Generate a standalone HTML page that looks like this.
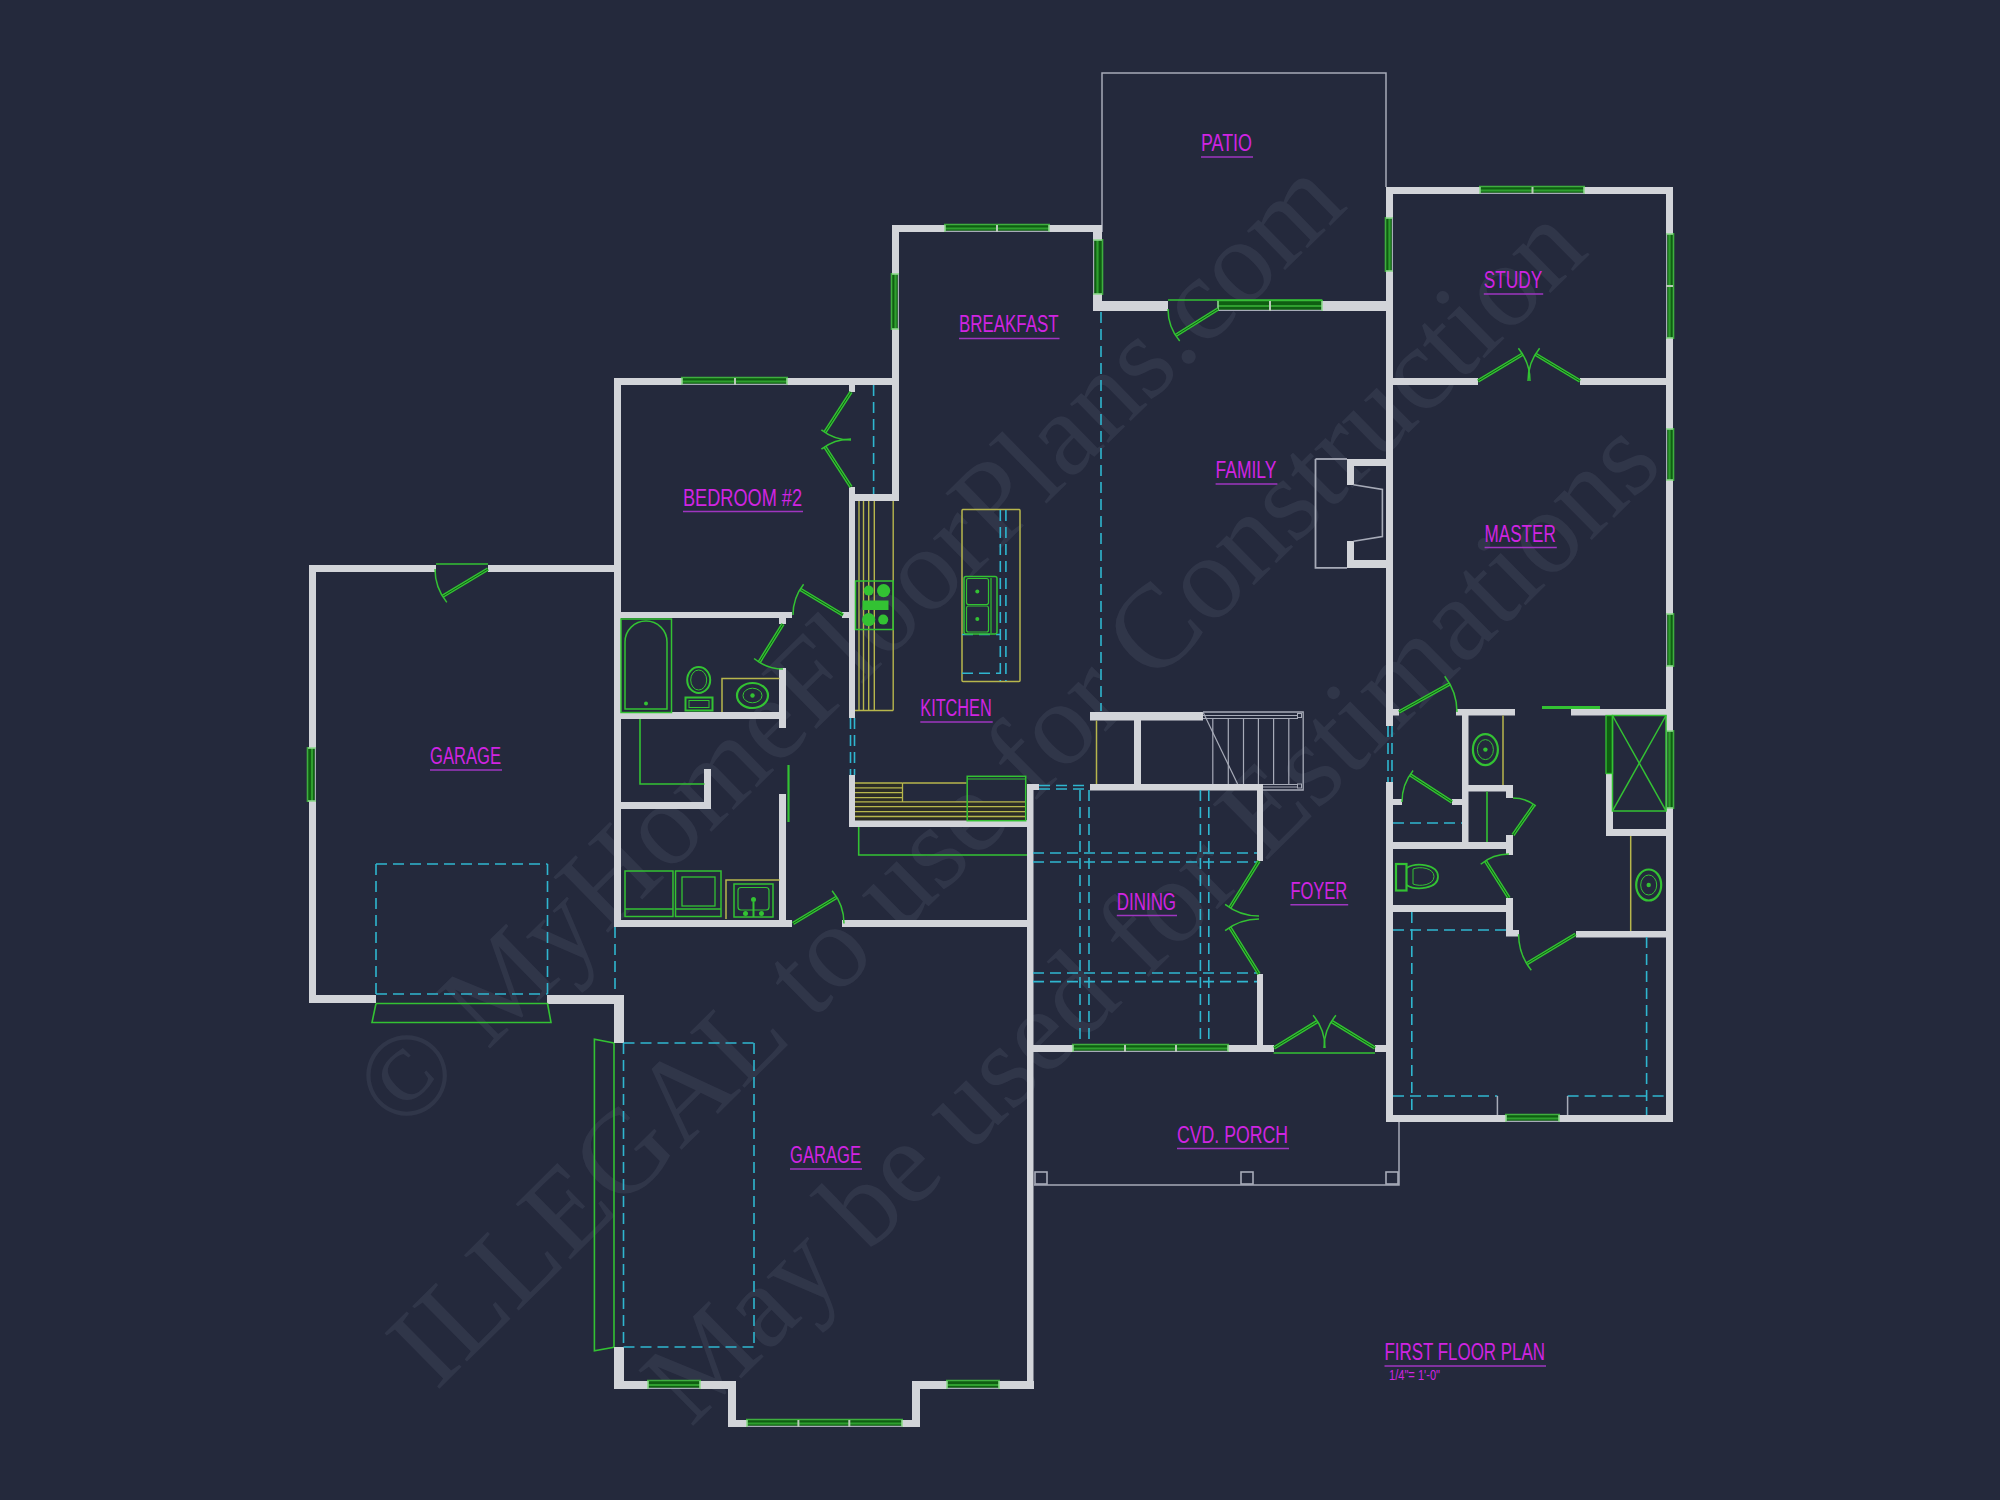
<!DOCTYPE html>
<html><head><meta charset="utf-8"><title>First Floor Plan</title>
<style>html,body{margin:0;padding:0;background:#24293c;}body{width:2000px;height:1500px;overflow:hidden;}svg{display:block;}</style>
</head><body>
<svg width="2000" height="1500" viewBox="0 0 2000 1500">
<rect x="0" y="0" width="2000" height="1500" fill="#24293c"/>
<text x="0" y="0" transform="translate(875.5,671) rotate(-44.4)" text-anchor="middle" font-size="119" fill="rgba(190,195,225,0.085)" font-family="Liberation Serif, serif">© MyHomeFloorPlans.com</text>
<text x="0" y="0" transform="translate(1013.5,822.5) rotate(-44.6)" text-anchor="middle" font-size="119" fill="rgba(190,195,225,0.085)" font-family="Liberation Serif, serif">ILLEGAL to use for Construction</text>
<text x="0" y="0" transform="translate(1178,948) rotate(-44.6)" text-anchor="middle" font-size="119" fill="rgba(190,195,225,0.085)" font-family="Liberation Serif, serif">May be used for Estimations</text>
<polyline points="1102,232 1102,73 1386,73 1386,187" fill="none" stroke="#a7abb8" stroke-width="1.5"/>
<polyline points="1034,1185 1399,1185 1399,1122" fill="none" stroke="#a7abb8" stroke-width="1.5"/>
<rect x="1035" y="1172" width="12" height="12" rx="0" fill="none" stroke="#a7abb8" stroke-width="1.6"/>
<rect x="1241" y="1172" width="12" height="12" rx="0" fill="none" stroke="#a7abb8" stroke-width="1.6"/>
<rect x="1386" y="1172" width="12" height="12" rx="0" fill="none" stroke="#a7abb8" stroke-width="1.6"/>
<rect x="309" y="565" width="127" height="7" fill="#d2d4d9"/>
<rect x="488" y="565" width="126" height="7" fill="#d2d4d9"/>
<rect x="309" y="565" width="7" height="183" fill="#d2d4d9"/>
<rect x="309" y="801" width="7" height="202" fill="#d2d4d9"/>
<rect x="308" y="748" width="8" height="53" fill="#0f5e12"/>
<line x1="312.0" y1="748" x2="312.0" y2="801" stroke="#2f9f2f" stroke-width="2.2" stroke-linecap="butt"/>
<line x1="307.5" y1="747" x2="307.5" y2="802" stroke="#3fae3f" stroke-width="1.6" stroke-linecap="butt"/>
<line x1="315.4" y1="748" x2="315.4" y2="801" stroke="#a7abb8" stroke-width="1.2" stroke-linecap="butt"/>
<line x1="308" y1="748" x2="316" y2="748" stroke="#8fd88f" stroke-width="1.6" stroke-linecap="butt"/>
<line x1="308" y1="801" x2="316" y2="801" stroke="#8fd88f" stroke-width="1.6" stroke-linecap="butt"/>
<rect x="309" y="995" width="67" height="8" fill="#d2d4d9"/>
<rect x="547" y="995" width="77" height="9" fill="#d2d4d9"/>
<line x1="488.0" y1="569.0" x2="442.6" y2="596.3" stroke="#33c233" stroke-width="3.6"/>
<line x1="488.0" y1="569.0" x2="442.6" y2="596.3" stroke="#0f5e12" stroke-width="1"/>
<path d="M435.0,569.0 A53,53 0 0 0 446.8,602.4" fill="none" stroke="#33c233" stroke-width="1.5"/>
<line x1="436" y1="564" x2="488" y2="564" stroke="#33c233" stroke-width="1.4" stroke-linecap="butt"/>
<line x1="376" y1="864" x2="547.5" y2="864" stroke="#2fb6cf" stroke-width="1.6" stroke-dasharray="11 6" stroke-linecap="butt"/>
<line x1="376" y1="864" x2="376" y2="995" stroke="#2fb6cf" stroke-width="1.6" stroke-dasharray="11 6" stroke-linecap="butt"/>
<line x1="547.5" y1="864" x2="547.5" y2="995" stroke="#2fb6cf" stroke-width="1.6" stroke-dasharray="11 6" stroke-linecap="butt"/>
<line x1="376" y1="994" x2="547.5" y2="994" stroke="#2fb6cf" stroke-width="1.6" stroke-dasharray="11 6" stroke-linecap="butt"/>
<polyline points="376,1003.5 372,1022.5 551,1022.5 547.5,1003.5" fill="none" stroke="#33c233" stroke-width="1.6"/>
<line x1="376" y1="1003.5" x2="547.5" y2="1003.5" stroke="#33c233" stroke-width="1.6" stroke-linecap="butt"/>
<rect x="614" y="378" width="7" height="549" fill="#d2d4d9"/>
<rect x="614" y="378" width="68" height="7" fill="#d2d4d9"/>
<rect x="787" y="378" width="112" height="7" fill="#d2d4d9"/>
<rect x="682" y="378" width="105" height="7" fill="#0f5e12"/>
<line x1="682" y1="381.5" x2="787" y2="381.5" stroke="#2f9f2f" stroke-width="2.2" stroke-linecap="butt"/>
<line x1="681" y1="377.5" x2="788" y2="377.5" stroke="#3fae3f" stroke-width="1.6" stroke-linecap="butt"/>
<line x1="682" y1="384.4" x2="787" y2="384.4" stroke="#a7abb8" stroke-width="1.2" stroke-linecap="butt"/>
<line x1="682" y1="378" x2="682" y2="385" stroke="#8fd88f" stroke-width="1.6" stroke-linecap="butt"/>
<line x1="787" y1="378" x2="787" y2="385" stroke="#8fd88f" stroke-width="1.6" stroke-linecap="butt"/>
<line x1="735" y1="378" x2="735" y2="385" stroke="#b9c9b9" stroke-width="2" stroke-linecap="butt"/>
<rect x="849" y="378" width="6" height="14" fill="#d2d4d9"/>
<rect x="849" y="487" width="6" height="231" fill="#d2d4d9"/>
<rect x="849" y="775" width="6" height="52" fill="#d2d4d9"/>
<rect x="892" y="225" width="7" height="49" fill="#d2d4d9"/>
<rect x="892" y="329" width="7" height="172" fill="#d2d4d9"/>
<rect x="892" y="274" width="7" height="55" fill="#0f5e12"/>
<line x1="895.5" y1="274" x2="895.5" y2="329" stroke="#2f9f2f" stroke-width="2.2" stroke-linecap="butt"/>
<line x1="891.5" y1="273" x2="891.5" y2="330" stroke="#3fae3f" stroke-width="1.6" stroke-linecap="butt"/>
<line x1="898.4" y1="274" x2="898.4" y2="329" stroke="#a7abb8" stroke-width="1.2" stroke-linecap="butt"/>
<line x1="892" y1="274" x2="899" y2="274" stroke="#8fd88f" stroke-width="1.6" stroke-linecap="butt"/>
<line x1="892" y1="329" x2="899" y2="329" stroke="#8fd88f" stroke-width="1.6" stroke-linecap="butt"/>
<rect x="849" y="494" width="50" height="7" fill="#d2d4d9"/>
<line x1="873.6" y1="385" x2="873.6" y2="494" stroke="#2fb6cf" stroke-width="1.6" stroke-dasharray="11 6" stroke-linecap="butt"/>
<line x1="851.0" y1="392.0" x2="824.9" y2="432.3" stroke="#33c233" stroke-width="3.6"/>
<line x1="851.0" y1="392.0" x2="824.9" y2="432.3" stroke="#0f5e12" stroke-width="1"/>
<path d="M851.0,440.0 A48,48 0 0 1 821.4,429.8" fill="none" stroke="#33c233" stroke-width="1.5"/>
<line x1="851.0" y1="487.0" x2="824.9" y2="446.7" stroke="#33c233" stroke-width="3.6"/>
<line x1="851.0" y1="487.0" x2="824.9" y2="446.7" stroke="#0f5e12" stroke-width="1"/>
<path d="M851.0,439.0 A48,48 0 0 0 821.4,449.2" fill="none" stroke="#33c233" stroke-width="1.5"/>
<rect x="614" y="612" width="178" height="6" fill="#d2d4d9"/>
<rect x="842" y="612" width="8" height="6" fill="#d2d4d9"/>
<rect x="779" y="612" width="7" height="12" fill="#d2d4d9"/>
<line x1="843.0" y1="615.0" x2="800.1" y2="589.2" stroke="#33c233" stroke-width="3.6"/>
<line x1="843.0" y1="615.0" x2="800.1" y2="589.2" stroke="#0f5e12" stroke-width="1"/>
<path d="M793.0,615.0 A50,50 0 0 1 803.6,584.2" fill="none" stroke="#33c233" stroke-width="1.5"/>
<rect x="614" y="712" width="172" height="7" fill="#d2d4d9"/>
<rect x="779" y="668" width="7" height="60" fill="#d2d4d9"/>
<line x1="783.0" y1="624.0" x2="759.2" y2="662.2" stroke="#33c233" stroke-width="3.6"/>
<line x1="783.0" y1="624.0" x2="759.2" y2="662.2" stroke="#0f5e12" stroke-width="1"/>
<path d="M783.0,669.0 A45,45 0 0 1 754.1,658.5" fill="none" stroke="#33c233" stroke-width="1.5"/>
<rect x="621" y="619" width="50.5" height="93.5" rx="0" fill="none" stroke="#33c233" stroke-width="1.5"/>
<path d="M625,709 L625,642 A21,21 0 0 1 667,642 L667,709 Z" fill="none" stroke="#33c233" stroke-width="1.5"/>
<circle cx="646" cy="703.5" r="2" fill="#33c233"/>
<ellipse cx="698.7" cy="680" rx="11.5" ry="13" fill="none" stroke="#33c233" stroke-width="2"/>
<ellipse cx="698.7" cy="680" rx="8" ry="10" fill="none" stroke="#33c233" stroke-width="1"/>
<rect x="685.5" y="697.5" width="27" height="13" rx="0" fill="none" stroke="#33c233" stroke-width="2"/>
<rect x="689" y="700.5" width="20" height="7" rx="0" fill="none" stroke="#33c233" stroke-width="1"/>
<polyline points="779.5,678.5 722,678.5 722,712" fill="none" stroke="#b7b64c" stroke-width="1.5"/>
<ellipse cx="752.5" cy="695.5" rx="15.5" ry="12.5" fill="none" stroke="#33c233" stroke-width="2.2"/>
<ellipse cx="752.5" cy="695.5" rx="9.5" ry="7.3" fill="none" stroke="#33c233" stroke-width="1"/>
<circle cx="752.5" cy="695.5" r="2.2" fill="#33c233"/>
<rect x="614" y="802" width="97" height="7" fill="#d2d4d9"/>
<rect x="704" y="769" width="7" height="40" fill="#d2d4d9"/>
<polyline points="640,719 640,784 704.5,784" fill="none" stroke="#33c233" stroke-width="1.6"/>
<rect x="779" y="794" width="7" height="133" fill="#d2d4d9"/>
<line x1="788.5" y1="765" x2="788.5" y2="822" stroke="#33c233" stroke-width="2.2" stroke-linecap="butt"/>
<rect x="614" y="920" width="178" height="7" fill="#d2d4d9"/>
<rect x="842" y="920" width="191" height="7" fill="#d2d4d9"/>
<line x1="793.0" y1="923.5" x2="836.7" y2="897.2" stroke="#33c233" stroke-width="3.6"/>
<line x1="793.0" y1="923.5" x2="836.7" y2="897.2" stroke="#0f5e12" stroke-width="1"/>
<path d="M832.1,890.7 A51,51 0 0 1 844.0,923.5" fill="none" stroke="#33c233" stroke-width="1.5"/>
<rect x="625" y="871" width="48" height="45.5" rx="0" fill="none" stroke="#33c233" stroke-width="1.5"/>
<line x1="625" y1="909" x2="673" y2="909" stroke="#33c233" stroke-width="1.3" stroke-linecap="butt"/>
<rect x="675.5" y="871" width="45.5" height="45.5" rx="0" fill="none" stroke="#33c233" stroke-width="1.5"/>
<line x1="675.5" y1="909" x2="721" y2="909" stroke="#33c233" stroke-width="1.3" stroke-linecap="butt"/>
<rect x="682" y="877" width="33" height="29" rx="0" fill="none" stroke="#33c233" stroke-width="1.3"/>
<polyline points="779.5,880 726,880 726,919" fill="none" stroke="#b7b64c" stroke-width="1.5"/>
<rect x="734" y="884" width="39" height="33" rx="0" fill="none" stroke="#33c233" stroke-width="1.5"/>
<rect x="738" y="887.5" width="31" height="22.5" rx="3" fill="none" stroke="#33c233" stroke-width="1.2"/>
<circle cx="753.5" cy="899.5" r="2.5" fill="#33c233"/><circle cx="745.5" cy="913.5" r="2.5" fill="#33c233"/><circle cx="761.5" cy="913.5" r="2.5" fill="#33c233"/>
<line x1="753.5" y1="902" x2="753.5" y2="917" stroke="#33c233" stroke-width="2" stroke-linecap="butt"/>
<rect x="849" y="820" width="184" height="7" fill="#d2d4d9"/>
<line x1="850.5" y1="718" x2="850.5" y2="775" stroke="#2fb6cf" stroke-width="1.6" stroke-dasharray="11 6" stroke-linecap="butt"/>
<line x1="854.5" y1="718" x2="854.5" y2="775" stroke="#2fb6cf" stroke-width="1.6" stroke-dasharray="11 6" stroke-linecap="butt"/>
<line x1="859" y1="501" x2="859" y2="710.5" stroke="#b7b64c" stroke-width="1.4" stroke-linecap="butt"/>
<line x1="863.5" y1="501" x2="863.5" y2="710.5" stroke="#b7b64c" stroke-width="1.4" stroke-linecap="butt"/>
<line x1="868.7" y1="501" x2="868.7" y2="710.5" stroke="#b7b64c" stroke-width="1.4" stroke-linecap="butt"/>
<line x1="874.3" y1="501" x2="874.3" y2="710.5" stroke="#b7b64c" stroke-width="1.4" stroke-linecap="butt"/>
<line x1="893.2" y1="501" x2="893.2" y2="710.5" stroke="#b7b64c" stroke-width="1.4" stroke-linecap="butt"/>
<line x1="855" y1="710.5" x2="893.2" y2="710.5" stroke="#b7b64c" stroke-width="1.4" stroke-linecap="butt"/>
<rect x="855.5" y="581" width="37.7" height="48.5" rx="0" fill="none" stroke="#33c233" stroke-width="1.5"/>
<circle cx="868.7" cy="590.6" r="5" fill="#33c233"/>
<circle cx="883.6" cy="590.6" r="6.6" fill="#33c233"/>
<circle cx="868.7" cy="619.6" r="6.6" fill="#33c233"/>
<circle cx="883.2" cy="619.6" r="5" fill="#33c233"/>
<rect x="862.5" y="600.5" width="26" height="9.5" fill="#33c233"/>
<rect x="962" y="509.5" width="58" height="172" rx="1" fill="none" stroke="#b7b64c" stroke-width="1.5"/>
<line x1="1000.3" y1="510" x2="1000.3" y2="681" stroke="#2fb6cf" stroke-width="1.6" stroke-dasharray="11 6" stroke-linecap="butt"/>
<line x1="1005.9" y1="510" x2="1005.9" y2="681" stroke="#2fb6cf" stroke-width="1.6" stroke-dasharray="11 6" stroke-linecap="butt"/>
<line x1="962" y1="673.2" x2="1000" y2="673.2" stroke="#2fb6cf" stroke-width="1.6" stroke-dasharray="11 6" stroke-linecap="butt"/>
<line x1="962" y1="634.5" x2="1000" y2="634.5" stroke="#2fb6cf" stroke-width="1.6" stroke-dasharray="11 6" stroke-linecap="butt"/>
<rect x="964" y="576.5" width="33" height="57.5" rx="2" fill="none" stroke="#33c233" stroke-width="1.5"/>
<rect x="966.5" y="578.5" width="22" height="26" rx="2" fill="none" stroke="#33c233" stroke-width="1.2"/>
<rect x="966.5" y="606" width="22" height="26" rx="2" fill="none" stroke="#33c233" stroke-width="1.2"/>
<line x1="991" y1="578" x2="991" y2="633" stroke="#33c233" stroke-width="1.2" stroke-linecap="butt"/>
<circle cx="977.3" cy="591.6" r="2" fill="#33c233"/><circle cx="977.3" cy="619" r="2" fill="#33c233"/>
<rect x="855" y="783" width="47.5" height="19" fill="#2b2c26"/>
<rect x="855" y="802" width="171" height="18.5" fill="#2b2c26"/>
<line x1="855" y1="783" x2="902.5" y2="783" stroke="#b7b64c" stroke-width="1.3" stroke-linecap="butt"/>
<line x1="855" y1="787.8" x2="902.5" y2="787.8" stroke="#b7b64c" stroke-width="1.3" stroke-linecap="butt"/>
<line x1="855" y1="792.7" x2="902.5" y2="792.7" stroke="#b7b64c" stroke-width="1.3" stroke-linecap="butt"/>
<line x1="855" y1="797.6" x2="902.5" y2="797.6" stroke="#b7b64c" stroke-width="1.3" stroke-linecap="butt"/>
<line x1="902.5" y1="783" x2="966.5" y2="783" stroke="#b7b64c" stroke-width="1.3" stroke-linecap="butt"/>
<line x1="902.5" y1="783" x2="902.5" y2="802" stroke="#b7b64c" stroke-width="1.3" stroke-linecap="butt"/>
<line x1="855" y1="801.8" x2="1026" y2="801.8" stroke="#b7b64c" stroke-width="1.3" stroke-linecap="butt"/>
<line x1="855" y1="806.7" x2="1026" y2="806.7" stroke="#b7b64c" stroke-width="1.3" stroke-linecap="butt"/>
<line x1="855" y1="811.6" x2="1026" y2="811.6" stroke="#b7b64c" stroke-width="1.3" stroke-linecap="butt"/>
<line x1="855" y1="816.5" x2="1026" y2="816.5" stroke="#b7b64c" stroke-width="1.3" stroke-linecap="butt"/>
<rect x="967.2" y="776.3" width="58.5" height="44.4" rx="0" fill="none" stroke="#33c233" stroke-width="1.5"/>
<line x1="967.2" y1="779" x2="1025.7" y2="779" stroke="#33c233" stroke-width="1.2" stroke-linecap="butt"/>
<polyline points="858.7,827 858.7,855 1027,855" fill="none" stroke="#33c233" stroke-width="1.6"/>
<rect x="892" y="225" width="53" height="7" fill="#d2d4d9"/>
<rect x="1049" y="225" width="53" height="7" fill="#d2d4d9"/>
<rect x="945" y="225" width="104" height="7" fill="#0f5e12"/>
<line x1="945" y1="228.5" x2="1049" y2="228.5" stroke="#2f9f2f" stroke-width="2.2" stroke-linecap="butt"/>
<line x1="944" y1="224.5" x2="1050" y2="224.5" stroke="#3fae3f" stroke-width="1.6" stroke-linecap="butt"/>
<line x1="945" y1="231.4" x2="1049" y2="231.4" stroke="#a7abb8" stroke-width="1.2" stroke-linecap="butt"/>
<line x1="945" y1="225" x2="945" y2="232" stroke="#8fd88f" stroke-width="1.6" stroke-linecap="butt"/>
<line x1="1049" y1="225" x2="1049" y2="232" stroke="#8fd88f" stroke-width="1.6" stroke-linecap="butt"/>
<line x1="997" y1="225" x2="997" y2="232" stroke="#b9c9b9" stroke-width="2" stroke-linecap="butt"/>
<rect x="1093" y="225" width="9" height="15" fill="#d2d4d9"/>
<rect x="1093" y="294" width="9" height="17" fill="#d2d4d9"/>
<rect x="1093" y="240" width="9" height="54" fill="#0f5e12"/>
<line x1="1097.5" y1="240" x2="1097.5" y2="294" stroke="#2f9f2f" stroke-width="2.2" stroke-linecap="butt"/>
<line x1="1102.5" y1="239" x2="1102.5" y2="295" stroke="#3fae3f" stroke-width="1.6" stroke-linecap="butt"/>
<line x1="1093.6" y1="240" x2="1093.6" y2="294" stroke="#a7abb8" stroke-width="1.2" stroke-linecap="butt"/>
<line x1="1093" y1="240" x2="1102" y2="240" stroke="#8fd88f" stroke-width="1.6" stroke-linecap="butt"/>
<line x1="1093" y1="294" x2="1102" y2="294" stroke="#8fd88f" stroke-width="1.6" stroke-linecap="butt"/>
<line x1="1101" y1="312" x2="1101" y2="711" stroke="#2fb6cf" stroke-width="1.6" stroke-dasharray="11 6" stroke-linecap="butt"/>
<rect x="1093" y="301" width="75" height="10" fill="#d2d4d9"/>
<rect x="1322" y="301" width="71" height="10" fill="#d2d4d9"/>
<rect x="1218" y="301" width="104" height="10" fill="#0f5e12"/>
<line x1="1218" y1="306.0" x2="1322" y2="306.0" stroke="#2f9f2f" stroke-width="2.2" stroke-linecap="butt"/>
<line x1="1217" y1="300.5" x2="1323" y2="300.5" stroke="#3fae3f" stroke-width="1.6" stroke-linecap="butt"/>
<line x1="1218" y1="310.4" x2="1322" y2="310.4" stroke="#a7abb8" stroke-width="1.2" stroke-linecap="butt"/>
<line x1="1218" y1="301" x2="1218" y2="311" stroke="#8fd88f" stroke-width="1.6" stroke-linecap="butt"/>
<line x1="1322" y1="301" x2="1322" y2="311" stroke="#8fd88f" stroke-width="1.6" stroke-linecap="butt"/>
<line x1="1270" y1="301" x2="1270" y2="311" stroke="#b9c9b9" stroke-width="2" stroke-linecap="butt"/>
<line x1="1168" y1="300" x2="1322" y2="300" stroke="#33c233" stroke-width="1.5" stroke-linecap="butt"/>
<line x1="1218.0" y1="309.0" x2="1175.6" y2="335.5" stroke="#33c233" stroke-width="3.6"/>
<line x1="1218.0" y1="309.0" x2="1175.6" y2="335.5" stroke="#0f5e12" stroke-width="1"/>
<path d="M1168.0,309.0 A50,50 0 0 0 1179.7,341.1" fill="none" stroke="#33c233" stroke-width="1.5"/>
<rect x="1347" y="459" width="46" height="7" fill="#d2d4d9"/>
<rect x="1347" y="459" width="7" height="26" fill="#d2d4d9"/>
<rect x="1347" y="541" width="7" height="27" fill="#d2d4d9"/>
<rect x="1347" y="560" width="46" height="8" fill="#d2d4d9"/>
<polyline points="1315.5,459 1315.5,567.8 1347,567.8" fill="none" stroke="#a7abb8" stroke-width="1.8"/>
<line x1="1315.5" y1="459" x2="1347" y2="459" stroke="#a7abb8" stroke-width="1.8" stroke-linecap="butt"/>
<polyline points="1353.5,484.8 1382.4,489.5 1382.4,536.6 1353.5,541.2" fill="none" stroke="#a7abb8" stroke-width="1.6"/>
<rect x="1386" y="187" width="7" height="31" fill="#d2d4d9"/>
<rect x="1386" y="271" width="7" height="455" fill="#d2d4d9"/>
<rect x="1386" y="782" width="7" height="340" fill="#d2d4d9"/>
<rect x="1386" y="218" width="7" height="53" fill="#0f5e12"/>
<line x1="1389.5" y1="218" x2="1389.5" y2="271" stroke="#2f9f2f" stroke-width="2.2" stroke-linecap="butt"/>
<line x1="1385.5" y1="217" x2="1385.5" y2="272" stroke="#3fae3f" stroke-width="1.6" stroke-linecap="butt"/>
<line x1="1392.4" y1="218" x2="1392.4" y2="271" stroke="#a7abb8" stroke-width="1.2" stroke-linecap="butt"/>
<line x1="1386" y1="218" x2="1393" y2="218" stroke="#8fd88f" stroke-width="1.6" stroke-linecap="butt"/>
<line x1="1386" y1="271" x2="1393" y2="271" stroke="#8fd88f" stroke-width="1.6" stroke-linecap="butt"/>
<line x1="1388" y1="726" x2="1388" y2="782" stroke="#2fb6cf" stroke-width="1.6" stroke-dasharray="11 6" stroke-linecap="butt"/>
<line x1="1392" y1="726" x2="1392" y2="782" stroke="#2fb6cf" stroke-width="1.6" stroke-dasharray="11 6" stroke-linecap="butt"/>
<rect x="1386" y="187" width="94" height="7" fill="#d2d4d9"/>
<rect x="1584" y="187" width="89" height="7" fill="#d2d4d9"/>
<rect x="1480" y="187" width="104" height="7" fill="#0f5e12"/>
<line x1="1480" y1="190.5" x2="1584" y2="190.5" stroke="#2f9f2f" stroke-width="2.2" stroke-linecap="butt"/>
<line x1="1479" y1="186.5" x2="1585" y2="186.5" stroke="#3fae3f" stroke-width="1.6" stroke-linecap="butt"/>
<line x1="1480" y1="193.4" x2="1584" y2="193.4" stroke="#a7abb8" stroke-width="1.2" stroke-linecap="butt"/>
<line x1="1480" y1="187" x2="1480" y2="194" stroke="#8fd88f" stroke-width="1.6" stroke-linecap="butt"/>
<line x1="1584" y1="187" x2="1584" y2="194" stroke="#8fd88f" stroke-width="1.6" stroke-linecap="butt"/>
<line x1="1532.5" y1="187" x2="1532.5" y2="194" stroke="#b9c9b9" stroke-width="2" stroke-linecap="butt"/>
<rect x="1666" y="187" width="7" height="47" fill="#d2d4d9"/>
<rect x="1666" y="338" width="7" height="91" fill="#d2d4d9"/>
<rect x="1666" y="480" width="7" height="134" fill="#d2d4d9"/>
<rect x="1666" y="666" width="7" height="65" fill="#d2d4d9"/>
<rect x="1666" y="808" width="7" height="314" fill="#d2d4d9"/>
<rect x="1666" y="234" width="7" height="104" fill="#0f5e12"/>
<line x1="1669.5" y1="234" x2="1669.5" y2="338" stroke="#2f9f2f" stroke-width="2.2" stroke-linecap="butt"/>
<line x1="1673.5" y1="233" x2="1673.5" y2="339" stroke="#3fae3f" stroke-width="1.6" stroke-linecap="butt"/>
<line x1="1666.6" y1="234" x2="1666.6" y2="338" stroke="#a7abb8" stroke-width="1.2" stroke-linecap="butt"/>
<line x1="1666" y1="234" x2="1673" y2="234" stroke="#8fd88f" stroke-width="1.6" stroke-linecap="butt"/>
<line x1="1666" y1="338" x2="1673" y2="338" stroke="#8fd88f" stroke-width="1.6" stroke-linecap="butt"/>
<line x1="1666" y1="286" x2="1673" y2="286" stroke="#b9c9b9" stroke-width="2" stroke-linecap="butt"/>
<rect x="1666" y="429" width="7" height="51" fill="#0f5e12"/>
<line x1="1669.5" y1="429" x2="1669.5" y2="480" stroke="#2f9f2f" stroke-width="2.2" stroke-linecap="butt"/>
<line x1="1673.5" y1="428" x2="1673.5" y2="481" stroke="#3fae3f" stroke-width="1.6" stroke-linecap="butt"/>
<line x1="1666.6" y1="429" x2="1666.6" y2="480" stroke="#a7abb8" stroke-width="1.2" stroke-linecap="butt"/>
<line x1="1666" y1="429" x2="1673" y2="429" stroke="#8fd88f" stroke-width="1.6" stroke-linecap="butt"/>
<line x1="1666" y1="480" x2="1673" y2="480" stroke="#8fd88f" stroke-width="1.6" stroke-linecap="butt"/>
<rect x="1666" y="614" width="7" height="52" fill="#0f5e12"/>
<line x1="1669.5" y1="614" x2="1669.5" y2="666" stroke="#2f9f2f" stroke-width="2.2" stroke-linecap="butt"/>
<line x1="1673.5" y1="613" x2="1673.5" y2="667" stroke="#3fae3f" stroke-width="1.6" stroke-linecap="butt"/>
<line x1="1666.6" y1="614" x2="1666.6" y2="666" stroke="#a7abb8" stroke-width="1.2" stroke-linecap="butt"/>
<line x1="1666" y1="614" x2="1673" y2="614" stroke="#8fd88f" stroke-width="1.6" stroke-linecap="butt"/>
<line x1="1666" y1="666" x2="1673" y2="666" stroke="#8fd88f" stroke-width="1.6" stroke-linecap="butt"/>
<rect x="1666" y="731" width="7" height="77" fill="#0f5e12"/>
<line x1="1669.5" y1="731" x2="1669.5" y2="808" stroke="#2f9f2f" stroke-width="2.2" stroke-linecap="butt"/>
<line x1="1673.5" y1="730" x2="1673.5" y2="809" stroke="#3fae3f" stroke-width="1.6" stroke-linecap="butt"/>
<line x1="1666.6" y1="731" x2="1666.6" y2="808" stroke="#a7abb8" stroke-width="1.2" stroke-linecap="butt"/>
<line x1="1666" y1="731" x2="1673" y2="731" stroke="#8fd88f" stroke-width="1.6" stroke-linecap="butt"/>
<line x1="1666" y1="808" x2="1673" y2="808" stroke="#8fd88f" stroke-width="1.6" stroke-linecap="butt"/>
<rect x="1393" y="378" width="85" height="7" fill="#d2d4d9"/>
<rect x="1580" y="378" width="86" height="7" fill="#d2d4d9"/>
<line x1="1478.0" y1="381.0" x2="1522.6" y2="354.2" stroke="#33c233" stroke-width="3.6"/>
<line x1="1478.0" y1="381.0" x2="1522.6" y2="354.2" stroke="#0f5e12" stroke-width="1"/>
<path d="M1518.4,348.3 A52,52 0 0 1 1530.0,381.0" fill="none" stroke="#33c233" stroke-width="1.5"/>
<line x1="1580.0" y1="381.0" x2="1535.4" y2="354.2" stroke="#33c233" stroke-width="3.6"/>
<line x1="1580.0" y1="381.0" x2="1535.4" y2="354.2" stroke="#0f5e12" stroke-width="1"/>
<path d="M1528.0,381.0 A52,52 0 0 1 1539.6,348.3" fill="none" stroke="#33c233" stroke-width="1.5"/>
<rect x="1393" y="709" width="6" height="6.5" fill="#d2d4d9"/>
<rect x="1456" y="709" width="59" height="6.5" fill="#d2d4d9"/>
<rect x="1571" y="709" width="102" height="6.5" fill="#d2d4d9"/>
<line x1="1399.0" y1="712.0" x2="1449.7" y2="683.9" stroke="#33c233" stroke-width="3.6"/>
<line x1="1399.0" y1="712.0" x2="1449.7" y2="683.9" stroke="#0f5e12" stroke-width="1"/>
<path d="M1444.7,676.3 A58,58 0 0 1 1457.0,712.0" fill="none" stroke="#33c233" stroke-width="1.5"/>
<line x1="1542" y1="707.5" x2="1600" y2="707.5" stroke="#33c233" stroke-width="3.2" stroke-linecap="butt"/>
<rect x="1462" y="709" width="6.5" height="139" fill="#d2d4d9"/>
<rect x="1468" y="785" width="45" height="6.5" fill="#d2d4d9"/>
<rect x="1506" y="785" width="7" height="13" fill="#d2d4d9"/>
<line x1="1503" y1="715.5" x2="1503" y2="785" stroke="#b7b64c" stroke-width="1.5" stroke-linecap="butt"/>
<ellipse cx="1485.4" cy="749.6" rx="12.5" ry="15.5" fill="none" stroke="#33c233" stroke-width="2.2"/>
<ellipse cx="1485.4" cy="749.6" rx="8" ry="10" fill="none" stroke="#33c233" stroke-width="1"/>
<circle cx="1485.4" cy="749.6" r="2.2" fill="#33c233"/>
<line x1="1487" y1="791.4" x2="1487" y2="842" stroke="#33c233" stroke-width="1.6" stroke-linecap="butt"/>
<line x1="1513.0" y1="835.0" x2="1534.2" y2="804.7" stroke="#33c233" stroke-width="3.6"/>
<line x1="1513.0" y1="835.0" x2="1534.2" y2="804.7" stroke="#0f5e12" stroke-width="1"/>
<path d="M1513.0,798.0 A37,37 0 0 1 1535.8,805.8" fill="none" stroke="#33c233" stroke-width="1.5"/>
<rect x="1393" y="799" width="9" height="6" fill="#d2d4d9"/>
<rect x="1452" y="799" width="10" height="6" fill="#d2d4d9"/>
<line x1="1452.0" y1="802.0" x2="1410.1" y2="774.8" stroke="#33c233" stroke-width="3.6"/>
<line x1="1452.0" y1="802.0" x2="1410.1" y2="774.8" stroke="#0f5e12" stroke-width="1"/>
<path d="M1402.0,802.0 A50,50 0 0 1 1413.1,770.5" fill="none" stroke="#33c233" stroke-width="1.5"/>
<line x1="1393" y1="823" x2="1462" y2="823" stroke="#2fb6cf" stroke-width="1.6" stroke-dasharray="11 6" stroke-linecap="butt"/>
<rect x="1393" y="842" width="120" height="7" fill="#d2d4d9"/>
<rect x="1506" y="835" width="7" height="20" fill="#d2d4d9"/>
<rect x="1396" y="864" width="10.5" height="26.5" rx="0" fill="none" stroke="#33c233" stroke-width="2.2"/>
<path d="M1406.5,868 C1416,862 1438,864 1438,876.5 C1438,889 1416,891 1406.5,885" fill="none" stroke="#33c233" stroke-width="1.8"/>
<path d="M1413,869 C1420,866 1434,868 1434,876.5 C1434,885 1420,887 1413,884 Z" fill="none" stroke="#33c233" stroke-width="1"/>
<line x1="1509.0" y1="898.0" x2="1485.4" y2="860.9" stroke="#33c233" stroke-width="3.6"/>
<line x1="1509.0" y1="898.0" x2="1485.4" y2="860.9" stroke="#0f5e12" stroke-width="1"/>
<path d="M1480.7,864.3 A44,44 0 0 1 1509.0,854.0" fill="none" stroke="#33c233" stroke-width="1.5"/>
<rect x="1393" y="905" width="120" height="7" fill="#d2d4d9"/>
<rect x="1506" y="898" width="7" height="38" fill="#d2d4d9"/>
<rect x="1506" y="930" width="13" height="6.5" fill="#d2d4d9"/>
<rect x="1576" y="931" width="90" height="6.5" fill="#d2d4d9"/>
<line x1="1575.6" y1="934.3" x2="1526.7" y2="963.7" stroke="#33c233" stroke-width="3.6"/>
<line x1="1575.6" y1="934.3" x2="1526.7" y2="963.7" stroke="#0f5e12" stroke-width="1"/>
<path d="M1518.6,934.3 A57,57 0 0 0 1531.3,970.2" fill="none" stroke="#33c233" stroke-width="1.5"/>
<rect x="1606" y="774" width="7" height="62" fill="#d2d4d9"/>
<rect x="1606" y="829" width="60" height="7" fill="#d2d4d9"/>
<rect x="1606" y="715.5" width="6.5" height="58" fill="#0f5e12" stroke="#33c233" stroke-width="1.3"/>
<rect x="1612.5" y="715.5" width="53.5" height="95.5" rx="0" fill="none" stroke="#33c233" stroke-width="1.5"/>
<line x1="1612.5" y1="810.8" x2="1666" y2="715.5" stroke="#33c233" stroke-width="1.5" stroke-linecap="butt"/>
<line x1="1612.5" y1="715.5" x2="1666" y2="810.8" stroke="#33c233" stroke-width="1.5" stroke-linecap="butt"/>
<line x1="1630.7" y1="836" x2="1630.7" y2="931" stroke="#b7b64c" stroke-width="1.5" stroke-linecap="butt"/>
<ellipse cx="1648.7" cy="885" rx="12.5" ry="15.5" fill="none" stroke="#33c233" stroke-width="2.2"/>
<ellipse cx="1648.7" cy="885" rx="8" ry="10" fill="none" stroke="#33c233" stroke-width="1"/>
<circle cx="1648.7" cy="885" r="2.2" fill="#33c233"/>
<line x1="1393" y1="930" x2="1506" y2="930" stroke="#2fb6cf" stroke-width="1.6" stroke-dasharray="11 6" stroke-linecap="butt"/>
<line x1="1411.8" y1="912" x2="1411.8" y2="1115" stroke="#2fb6cf" stroke-width="1.6" stroke-dasharray="11 6" stroke-linecap="butt"/>
<line x1="1646.6" y1="937" x2="1646.6" y2="1115" stroke="#2fb6cf" stroke-width="1.6" stroke-dasharray="11 6" stroke-linecap="butt"/>
<line x1="1393" y1="1096" x2="1497.4" y2="1096" stroke="#2fb6cf" stroke-width="1.6" stroke-dasharray="11 6" stroke-linecap="butt"/>
<line x1="1567.6" y1="1096" x2="1666" y2="1096" stroke="#2fb6cf" stroke-width="1.6" stroke-dasharray="11 6" stroke-linecap="butt"/>
<line x1="1497.4" y1="1096" x2="1497.4" y2="1115" stroke="#a7abb8" stroke-width="1.5" stroke-linecap="butt"/>
<line x1="1567.6" y1="1096" x2="1567.6" y2="1115" stroke="#a7abb8" stroke-width="1.5" stroke-linecap="butt"/>
<rect x="1386" y="1115" width="120" height="7" fill="#d2d4d9"/>
<rect x="1559" y="1115" width="114" height="7" fill="#d2d4d9"/>
<rect x="1506" y="1115" width="53" height="7" fill="#0f5e12"/>
<line x1="1506" y1="1118.5" x2="1559" y2="1118.5" stroke="#2f9f2f" stroke-width="2.2" stroke-linecap="butt"/>
<line x1="1505" y1="1114.5" x2="1560" y2="1114.5" stroke="#3fae3f" stroke-width="1.6" stroke-linecap="butt"/>
<line x1="1506" y1="1121.4" x2="1559" y2="1121.4" stroke="#a7abb8" stroke-width="1.2" stroke-linecap="butt"/>
<line x1="1506" y1="1115" x2="1506" y2="1122" stroke="#8fd88f" stroke-width="1.6" stroke-linecap="butt"/>
<line x1="1559" y1="1115" x2="1559" y2="1122" stroke="#8fd88f" stroke-width="1.6" stroke-linecap="butt"/>
<rect x="1090" y="712" width="113" height="8.5" fill="#d2d4d9"/>
<rect x="1134" y="712" width="7" height="73" fill="#d2d4d9"/>
<rect x="1090" y="784" width="172.5" height="6.5" fill="#d2d4d9"/>
<line x1="1096.5" y1="720.5" x2="1096.5" y2="784" stroke="#b7b64c" stroke-width="1.5" stroke-linecap="butt"/>
<polyline points="1203,712 1303.2,712 1303.2,790 1262,790" fill="none" stroke="#a7abb8" stroke-width="1.3"/>
<line x1="1203" y1="715.5" x2="1298" y2="715.5" stroke="#a7abb8" stroke-width="1.2" stroke-linecap="butt"/>
<line x1="1203" y1="718.5" x2="1298" y2="718.5" stroke="#a7abb8" stroke-width="1.2" stroke-linecap="butt"/>
<line x1="1262" y1="784.5" x2="1298" y2="784.5" stroke="#a7abb8" stroke-width="1.2" stroke-linecap="butt"/>
<line x1="1262" y1="787" x2="1298" y2="787" stroke="#a7abb8" stroke-width="1.2" stroke-linecap="butt"/>
<rect x="1297.5" y="713.5" width="4" height="4" rx="0" fill="none" stroke="#a7abb8" stroke-width="1"/>
<rect x="1297.5" y="784" width="4" height="4" rx="0" fill="none" stroke="#a7abb8" stroke-width="1"/>
<line x1="1212.8" y1="718" x2="1212.8" y2="784" stroke="#a7abb8" stroke-width="1.2" stroke-linecap="butt"/>
<line x1="1228.3" y1="718" x2="1228.3" y2="784" stroke="#a7abb8" stroke-width="1.2" stroke-linecap="butt"/>
<line x1="1243.5" y1="718" x2="1243.5" y2="784" stroke="#a7abb8" stroke-width="1.2" stroke-linecap="butt"/>
<line x1="1258.4" y1="718" x2="1258.4" y2="784" stroke="#a7abb8" stroke-width="1.2" stroke-linecap="butt"/>
<line x1="1273.6" y1="718" x2="1273.6" y2="784" stroke="#a7abb8" stroke-width="1.2" stroke-linecap="butt"/>
<line x1="1288.8" y1="718" x2="1288.8" y2="784" stroke="#a7abb8" stroke-width="1.2" stroke-linecap="butt"/>
<line x1="1203" y1="712" x2="1237.6" y2="784" stroke="#a7abb8" stroke-width="1.2" stroke-linecap="butt"/>
<rect x="1027" y="784" width="6.5" height="605" fill="#d2d4d9"/>
<rect x="1027" y="784" width="12" height="6" fill="#d2d4d9"/>
<line x1="1039" y1="785.5" x2="1090" y2="785.5" stroke="#2fb6cf" stroke-width="1.6" stroke-dasharray="11 6" stroke-linecap="butt"/>
<line x1="1039" y1="789" x2="1090" y2="789" stroke="#2fb6cf" stroke-width="1.6" stroke-dasharray="11 6" stroke-linecap="butt"/>
<line x1="1080" y1="790" x2="1080" y2="1045" stroke="#2fb6cf" stroke-width="1.6" stroke-dasharray="11 6" stroke-linecap="butt"/>
<line x1="1089" y1="790" x2="1089" y2="1045" stroke="#2fb6cf" stroke-width="1.6" stroke-dasharray="11 6" stroke-linecap="butt"/>
<line x1="1200.4" y1="790" x2="1200.4" y2="1045" stroke="#2fb6cf" stroke-width="1.6" stroke-dasharray="11 6" stroke-linecap="butt"/>
<line x1="1208.8" y1="790" x2="1208.8" y2="1045" stroke="#2fb6cf" stroke-width="1.6" stroke-dasharray="11 6" stroke-linecap="butt"/>
<line x1="1033" y1="853" x2="1257" y2="853" stroke="#2fb6cf" stroke-width="1.6" stroke-dasharray="11 6" stroke-linecap="butt"/>
<line x1="1033" y1="862" x2="1257" y2="862" stroke="#2fb6cf" stroke-width="1.6" stroke-dasharray="11 6" stroke-linecap="butt"/>
<line x1="1033" y1="973" x2="1257" y2="973" stroke="#2fb6cf" stroke-width="1.6" stroke-dasharray="11 6" stroke-linecap="butt"/>
<line x1="1033" y1="981.6" x2="1257" y2="981.6" stroke="#2fb6cf" stroke-width="1.6" stroke-dasharray="11 6" stroke-linecap="butt"/>
<rect x="1257" y="784" width="6" height="77" fill="#d2d4d9"/>
<rect x="1257" y="974" width="6" height="78" fill="#d2d4d9"/>
<line x1="1259.0" y1="861.0" x2="1229.9" y2="907.6" stroke="#33c233" stroke-width="3.6"/>
<line x1="1259.0" y1="861.0" x2="1229.9" y2="907.6" stroke="#0f5e12" stroke-width="1"/>
<path d="M1259.0,916.0 A55,55 0 0 1 1225.1,904.3" fill="none" stroke="#33c233" stroke-width="1.5"/>
<line x1="1259.0" y1="974.0" x2="1229.9" y2="927.4" stroke="#33c233" stroke-width="3.6"/>
<line x1="1259.0" y1="974.0" x2="1229.9" y2="927.4" stroke="#0f5e12" stroke-width="1"/>
<path d="M1259.0,919.0 A55,55 0 0 0 1225.1,930.7" fill="none" stroke="#33c233" stroke-width="1.5"/>
<rect x="1033" y="1045" width="40" height="7" fill="#d2d4d9"/>
<rect x="1228" y="1045" width="46" height="7" fill="#d2d4d9"/>
<rect x="1375" y="1045" width="12" height="7" fill="#d2d4d9"/>
<rect x="1073" y="1045" width="155" height="7" fill="#0f5e12"/>
<line x1="1073" y1="1048.5" x2="1228" y2="1048.5" stroke="#2f9f2f" stroke-width="2.2" stroke-linecap="butt"/>
<line x1="1072" y1="1044.5" x2="1229" y2="1044.5" stroke="#3fae3f" stroke-width="1.6" stroke-linecap="butt"/>
<line x1="1073" y1="1051.4" x2="1228" y2="1051.4" stroke="#a7abb8" stroke-width="1.2" stroke-linecap="butt"/>
<line x1="1073" y1="1045" x2="1073" y2="1052" stroke="#8fd88f" stroke-width="1.6" stroke-linecap="butt"/>
<line x1="1228" y1="1045" x2="1228" y2="1052" stroke="#8fd88f" stroke-width="1.6" stroke-linecap="butt"/>
<line x1="1125" y1="1045" x2="1125" y2="1052" stroke="#b9c9b9" stroke-width="2" stroke-linecap="butt"/>
<line x1="1176" y1="1045" x2="1176" y2="1052" stroke="#b9c9b9" stroke-width="2" stroke-linecap="butt"/>
<line x1="1274.0" y1="1048.0" x2="1317.5" y2="1021.4" stroke="#33c233" stroke-width="3.6"/>
<line x1="1274.0" y1="1048.0" x2="1317.5" y2="1021.4" stroke="#0f5e12" stroke-width="1"/>
<path d="M1313.1,1015.2 A51,51 0 0 1 1325.0,1048.0" fill="none" stroke="#33c233" stroke-width="1.5"/>
<line x1="1375.0" y1="1048.0" x2="1331.5" y2="1021.4" stroke="#33c233" stroke-width="3.6"/>
<line x1="1375.0" y1="1048.0" x2="1331.5" y2="1021.4" stroke="#0f5e12" stroke-width="1"/>
<path d="M1324.0,1048.0 A51,51 0 0 1 1335.9,1015.2" fill="none" stroke="#33c233" stroke-width="1.5"/>
<line x1="1273.6" y1="1053" x2="1375" y2="1053" stroke="#33c233" stroke-width="1.5" stroke-linecap="butt"/>
<rect x="614" y="995" width="10" height="48" fill="#d2d4d9"/>
<rect x="614" y="1347" width="10" height="42" fill="#d2d4d9"/>
<line x1="615" y1="927" x2="615" y2="995" stroke="#2fb6cf" stroke-width="1.6" stroke-dasharray="11 6" stroke-linecap="butt"/>
<polyline points="614,1043 594.4,1039.2 594.4,1350.8 614,1347.2" fill="none" stroke="#33c233" stroke-width="1.6"/>
<line x1="614" y1="1043" x2="614" y2="1347" stroke="#33c233" stroke-width="1.6" stroke-linecap="butt"/>
<line x1="623.5" y1="1043" x2="754" y2="1043" stroke="#2fb6cf" stroke-width="1.6" stroke-dasharray="11 6" stroke-linecap="butt"/>
<line x1="754" y1="1043" x2="754" y2="1347" stroke="#2fb6cf" stroke-width="1.6" stroke-dasharray="11 6" stroke-linecap="butt"/>
<line x1="623.5" y1="1347" x2="754" y2="1347" stroke="#2fb6cf" stroke-width="1.6" stroke-dasharray="11 6" stroke-linecap="butt"/>
<line x1="623.5" y1="1043" x2="623.5" y2="1347" stroke="#2fb6cf" stroke-width="1.6" stroke-dasharray="11 6" stroke-linecap="butt"/>
<rect x="614" y="1381" width="121" height="8" fill="#d2d4d9"/>
<rect x="728" y="1381" width="8" height="46" fill="#d2d4d9"/>
<rect x="728" y="1420" width="192" height="7" fill="#d2d4d9"/>
<rect x="912" y="1381" width="8" height="46" fill="#d2d4d9"/>
<rect x="912" y="1381" width="122" height="8" fill="#d2d4d9"/>
<rect x="648" y="1381" width="52" height="8" fill="#0f5e12"/>
<line x1="648" y1="1385.0" x2="700" y2="1385.0" stroke="#2f9f2f" stroke-width="2.2" stroke-linecap="butt"/>
<line x1="647" y1="1380.5" x2="701" y2="1380.5" stroke="#3fae3f" stroke-width="1.6" stroke-linecap="butt"/>
<line x1="648" y1="1388.4" x2="700" y2="1388.4" stroke="#a7abb8" stroke-width="1.2" stroke-linecap="butt"/>
<line x1="648" y1="1381" x2="648" y2="1389" stroke="#8fd88f" stroke-width="1.6" stroke-linecap="butt"/>
<line x1="700" y1="1381" x2="700" y2="1389" stroke="#8fd88f" stroke-width="1.6" stroke-linecap="butt"/>
<rect x="747" y="1420" width="155" height="7" fill="#0f5e12"/>
<line x1="747" y1="1423.5" x2="902" y2="1423.5" stroke="#2f9f2f" stroke-width="2.2" stroke-linecap="butt"/>
<line x1="746" y1="1419.5" x2="903" y2="1419.5" stroke="#3fae3f" stroke-width="1.6" stroke-linecap="butt"/>
<line x1="747" y1="1426.4" x2="902" y2="1426.4" stroke="#a7abb8" stroke-width="1.2" stroke-linecap="butt"/>
<line x1="747" y1="1420" x2="747" y2="1427" stroke="#8fd88f" stroke-width="1.6" stroke-linecap="butt"/>
<line x1="902" y1="1420" x2="902" y2="1427" stroke="#8fd88f" stroke-width="1.6" stroke-linecap="butt"/>
<line x1="798.4" y1="1420" x2="798.4" y2="1427" stroke="#b9c9b9" stroke-width="2" stroke-linecap="butt"/>
<line x1="849.3" y1="1420" x2="849.3" y2="1427" stroke="#b9c9b9" stroke-width="2" stroke-linecap="butt"/>
<rect x="947" y="1381" width="52" height="8" fill="#0f5e12"/>
<line x1="947" y1="1385.0" x2="999" y2="1385.0" stroke="#2f9f2f" stroke-width="2.2" stroke-linecap="butt"/>
<line x1="946" y1="1380.5" x2="1000" y2="1380.5" stroke="#3fae3f" stroke-width="1.6" stroke-linecap="butt"/>
<line x1="947" y1="1388.4" x2="999" y2="1388.4" stroke="#a7abb8" stroke-width="1.2" stroke-linecap="butt"/>
<line x1="947" y1="1381" x2="947" y2="1389" stroke="#8fd88f" stroke-width="1.6" stroke-linecap="butt"/>
<line x1="999" y1="1381" x2="999" y2="1389" stroke="#8fd88f" stroke-width="1.6" stroke-linecap="butt"/>
<text x="1201" y="150.5" font-size="23.3" textLength="51" lengthAdjust="spacingAndGlyphs" fill="#d024e2" font-family="Liberation Sans, sans-serif">PATIO</text>
<line x1="1201" y1="157" x2="1253" y2="157" stroke="#9e36c0" stroke-width="1.5" stroke-linecap="butt"/>
<text x="959" y="332.2" font-size="24.7" textLength="99.5" lengthAdjust="spacingAndGlyphs" fill="#d024e2" font-family="Liberation Sans, sans-serif">BREAKFAST</text>
<line x1="959" y1="338.4" x2="1059.5" y2="338.4" stroke="#9e36c0" stroke-width="1.5" stroke-linecap="butt"/>
<text x="1215.6" y="477.6" font-size="23.3" textLength="60.80000000000018" lengthAdjust="spacingAndGlyphs" fill="#d024e2" font-family="Liberation Sans, sans-serif">FAMILY</text>
<line x1="1215.6" y1="484" x2="1277.4" y2="484" stroke="#9e36c0" stroke-width="1.5" stroke-linecap="butt"/>
<text x="1483.8" y="288.4" font-size="23.3" textLength="58.40000000000009" lengthAdjust="spacingAndGlyphs" fill="#d024e2" font-family="Liberation Sans, sans-serif">STUDY</text>
<line x1="1483.8" y1="294" x2="1543.2" y2="294" stroke="#9e36c0" stroke-width="1.5" stroke-linecap="butt"/>
<text x="683" y="505.5" font-size="24.0" textLength="119" lengthAdjust="spacingAndGlyphs" fill="#d024e2" font-family="Liberation Sans, sans-serif">BEDROOM #2</text>
<line x1="683" y1="511.4" x2="803" y2="511.4" stroke="#9e36c0" stroke-width="1.5" stroke-linecap="butt"/>
<text x="1484.6" y="541.6" font-size="23.3" textLength="71.20000000000005" lengthAdjust="spacingAndGlyphs" fill="#d024e2" font-family="Liberation Sans, sans-serif">MASTER</text>
<line x1="1484.6" y1="547.5" x2="1556.8" y2="547.5" stroke="#9e36c0" stroke-width="1.5" stroke-linecap="butt"/>
<text x="920.3" y="716.4" font-size="23.3" textLength="71.40000000000009" lengthAdjust="spacingAndGlyphs" fill="#d024e2" font-family="Liberation Sans, sans-serif">KITCHEN</text>
<line x1="920.3" y1="722" x2="992.7" y2="722" stroke="#9e36c0" stroke-width="1.5" stroke-linecap="butt"/>
<text x="430" y="764" font-size="23.3" textLength="71" lengthAdjust="spacingAndGlyphs" fill="#d024e2" font-family="Liberation Sans, sans-serif">GARAGE</text>
<line x1="430" y1="770" x2="502" y2="770" stroke="#9e36c0" stroke-width="1.5" stroke-linecap="butt"/>
<text x="1116.8" y="910" font-size="24.7" textLength="59.200000000000045" lengthAdjust="spacingAndGlyphs" fill="#d024e2" font-family="Liberation Sans, sans-serif">DINING</text>
<line x1="1116.8" y1="915.6" x2="1177" y2="915.6" stroke="#9e36c0" stroke-width="1.5" stroke-linecap="butt"/>
<text x="1290.4" y="898.8" font-size="23.3" textLength="56.799999999999955" lengthAdjust="spacingAndGlyphs" fill="#d024e2" font-family="Liberation Sans, sans-serif">FOYER</text>
<line x1="1290.4" y1="904.7" x2="1348.2" y2="904.7" stroke="#9e36c0" stroke-width="1.5" stroke-linecap="butt"/>
<text x="1177" y="1143" font-size="24.7" textLength="111" lengthAdjust="spacingAndGlyphs" fill="#d024e2" font-family="Liberation Sans, sans-serif">CVD. PORCH</text>
<line x1="1177" y1="1148.6" x2="1289" y2="1148.6" stroke="#9e36c0" stroke-width="1.5" stroke-linecap="butt"/>
<text x="790" y="1163" font-size="24.7" textLength="71" lengthAdjust="spacingAndGlyphs" fill="#d024e2" font-family="Liberation Sans, sans-serif">GARAGE</text>
<line x1="790" y1="1169" x2="862" y2="1169" stroke="#9e36c0" stroke-width="1.5" stroke-linecap="butt"/>
<text x="1384.5" y="1360" font-size="23.3" textLength="160.5" lengthAdjust="spacingAndGlyphs" fill="#d024e2" font-family="Liberation Sans, sans-serif">FIRST FLOOR PLAN</text>
<line x1="1384.5" y1="1366" x2="1546" y2="1366" stroke="#9e36c0" stroke-width="1.5" stroke-linecap="butt"/>
<text x="1389" y="1380" font-size="14.5" textLength="51" lengthAdjust="spacingAndGlyphs" fill="#d024e2" font-family="Liberation Sans, sans-serif">1/4&quot;= 1&#39;-0&quot;</text>
</svg>
</body></html>
